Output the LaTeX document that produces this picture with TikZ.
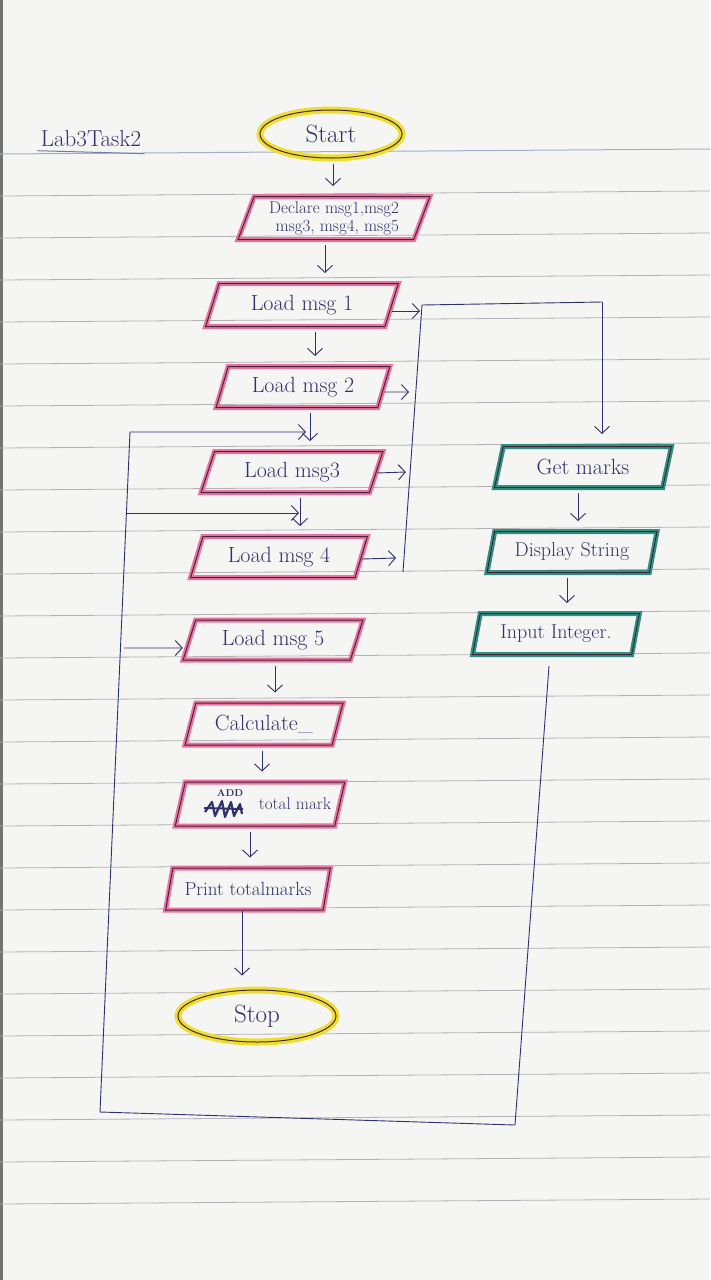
\documentclass[tikz,border=0pt]{standalone}
\usetikzlibrary{shapes.geometric,arrows.meta}

\definecolor{paperc}{RGB}{245,245,243}
\definecolor{rulec}{RGB}{178,178,182}
\definecolor{topc}{RGB}{160,175,200}
\definecolor{inkc}{RGB}{48,48,110}
\definecolor{edgec}{RGB}{70,35,60}
\definecolor{pinkc}{RGB}{234,115,158}
\definecolor{tealc}{RGB}{45,145,128}
\definecolor{yelc}{RGB}{238,222,45}

\tikzset{
    ink/.style={draw=inkc, line width=0.9pt},
    arr/.style={ink, -{Straight Barb[length=7pt,width=15pt]}},
    down/.style={arr, shorten <=5pt, shorten >=10pt},
    box/.style={trapezium, trapezium stretches=true, draw=edgec, line width=1pt,
        inner sep=2pt, text=inkc, font=\fontsize{22}{25}\selectfont},
    io/.style={box, trapezium left angle=70, trapezium right angle=110,
        preaction={draw=pinkc, line width=5pt}},
    iot/.style={box, trapezium left angle=75, trapezium right angle=105,
        preaction={draw=tealc, line width=5pt}},
    term/.style={ellipse, draw=edgec, line width=1pt, inner sep=0pt,
        preaction={draw=yelc, line width=7pt}, text=inkc,
        font=\fontsize{25}{28}\selectfont}
}

\begin{document}
\begin{tikzpicture}[x=1pt, y=-1pt]

    %% paper
    \fill[paperc](0, 0) rectangle (710, 1280);
    \useasboundingbox(0, 0) rectangle (710, 1280);
    \fill[black!55](0, 0) rectangle (3, 1280);
    \draw[topc, line width=1pt](0, 154) to (710, 149);
    \foreach \k in {1,...,25}
        \draw[rulec, line width=0.8pt](0, {154+42*\k}) to (710, {149+42*\k});

    %% title
    \node[text=inkc, font=\fontsize{23}{26}\selectfont] at(91, 139)(title){Lab3Task2};
    \draw[draw=topc!60!inkc, line width=1pt](title.south west) to ([yshift=-3pt]title.south east);

    %% main column
    \node[term, minimum width=142pt, minimum height=48pt] at(331, 134)(start){Start};
    \node[io, minimum width=192pt, minimum height=43pt, align=right,
        font=\fontsize{17}{18}\selectfont] at(334, 218)(decl){Declare msg1,msg2\\ msg3, msg4, msg5};
    \node[io, minimum width=193pt, minimum height=43pt] at(302, 305)(m1){Load msg 1};
    \node[io, minimum width=174pt, minimum height=41pt] at(303, 387)(m2){Load msg 2};
    \node[io, minimum width=182pt, minimum height=41pt] at(292, 472)(m3){Load msg3};
    \node[io, minimum width=177pt, minimum height=41pt] at(279, 557)(m4){Load msg 4};
    \node[io, minimum width=180pt, minimum height=40pt] at(273, 640)(m5){Load msg 5};
    \node[io, minimum width=158pt, minimum height=42pt] at(264, 724)(calc){Calculate\_};
    \node[io, minimum width=170pt, minimum height=44pt,
        font=\fontsize{17}{20}\selectfont] at(260, 804)(add){\hspace*{40pt}total mark\hspace*{-30pt}};
    \node[io, minimum width=165pt, minimum height=42pt,
        font=\fontsize{19}{22}\selectfont] at(248, 889)(prnt){Print totalmarks};
    \node[term, minimum width=158pt, minimum height=52pt] at(257, 1016)(stop){Stop};

    %% crossed-out word
    \draw[inkc, line width=2.2pt, line join=round]
        (205, 812) -- (212, 802) -- (215, 816) -- (222, 801) -- (225, 817) -- (231, 802)
        -- (234, 816) -- (240, 804) -- (242, 814);
    \draw[inkc, line width=2pt](204, 808) to (243, 809);
    \node[text=inkc, font=\bfseries\fontsize{10}{12}\selectfont] at(230, 793)(addw){ADD};

    %% right column
    \node[iot, minimum width=177pt, minimum height=41pt] at(583, 467)(get){Get marks};
    \node[iot, minimum width=170pt, minimum height=41pt,
        font=\fontsize{20}{23}\selectfont] at(572, 552)(disp){Display String};
    \node[iot, minimum width=167pt, minimum height=41pt,
        font=\fontsize{20}{23}\selectfont] at(556, 634)(inp){Input Integer.};

    %% arrows down
    \draw[down]([xshift=2pt]start.south) to ([xshift=2pt]start.south |- decl.north);
    \draw[down]([xshift=-9pt]decl.south) to ([xshift=-9pt]decl.south |- m1.north);
    \draw[down]([xshift=13pt]m1.south) to ([xshift=13pt]m1.south |- m2.north);
    \draw[down]([xshift=7pt]m2.south) to ([xshift=7pt]m2.south |- m3.north);
    \draw[down]([xshift=8pt]m3.south) to ([xshift=8pt]m3.south |- m4.north);
    \draw[down]([xshift=2pt]m5.south) to ([xshift=2pt]m5.south |- calc.north);
    \draw[down]([xshift=-2pt]calc.south) to ([xshift=-2pt]calc.south |- add.north);
    \draw[down]([xshift=-10pt]add.south) to ([xshift=-10pt]add.south |- prnt.north);
    \draw[arr, shorten >=14pt]([xshift=-6pt]prnt.south) to ([xshift=-6pt]prnt.south |- stop.north);
    \draw[down]([xshift=-5pt]get.south) to ([xshift=-5pt]get.south |- disp.north);
    \draw[down]([xshift=-5pt]disp.south) to ([xshift=-5pt]disp.south |- inp.north);

    %% bus to get marks
    \coordinate (busT) at (422, 305);
    \coordinate (busB) at (403, 572);
    \coordinate (topR) at (602, 302);
    \coordinate (bus1) at (420, 311);
    \coordinate (bus2) at (409, 392);
    \coordinate (bus3) at (406, 472);
    \coordinate (bus4) at (396, 558);
    \draw[ink](busB) to (busT) to (topR);
    \draw[arr, shorten >=12pt](topR) to (topR |- get.north);
    \draw[arr]([yshift=-6pt]m1.east) to (bus1);
    \draw[arr]([yshift=-5pt]m2.east) to (bus2);
    \draw[arr]([yshift=-1pt]m3.east) to (bus3);
    \draw[arr]([yshift=-2pt]m4.east) to (bus4);

    %% loop back
    \coordinate (lpA) at (549, 666);
    \coordinate (lpB) at (515, 1125);
    \coordinate (lpC) at (100, 1112);
    \coordinate (lpD) at (130, 432);
    \coordinate (in3) at (306, 432);
    \coordinate (lpE) at (127, 513);
    \coordinate (in4) at (299, 513);
    \coordinate (lpF) at (124, 648);
    \draw[arr](lpA) to (lpB) to (lpC) to (lpD) to (in3);
    \draw[arr](lpE) to (in4);
    \draw[arr](lpF) to ([xshift=-6pt, yshift=-8pt]m5.west);
\end{tikzpicture}
\end{document}
